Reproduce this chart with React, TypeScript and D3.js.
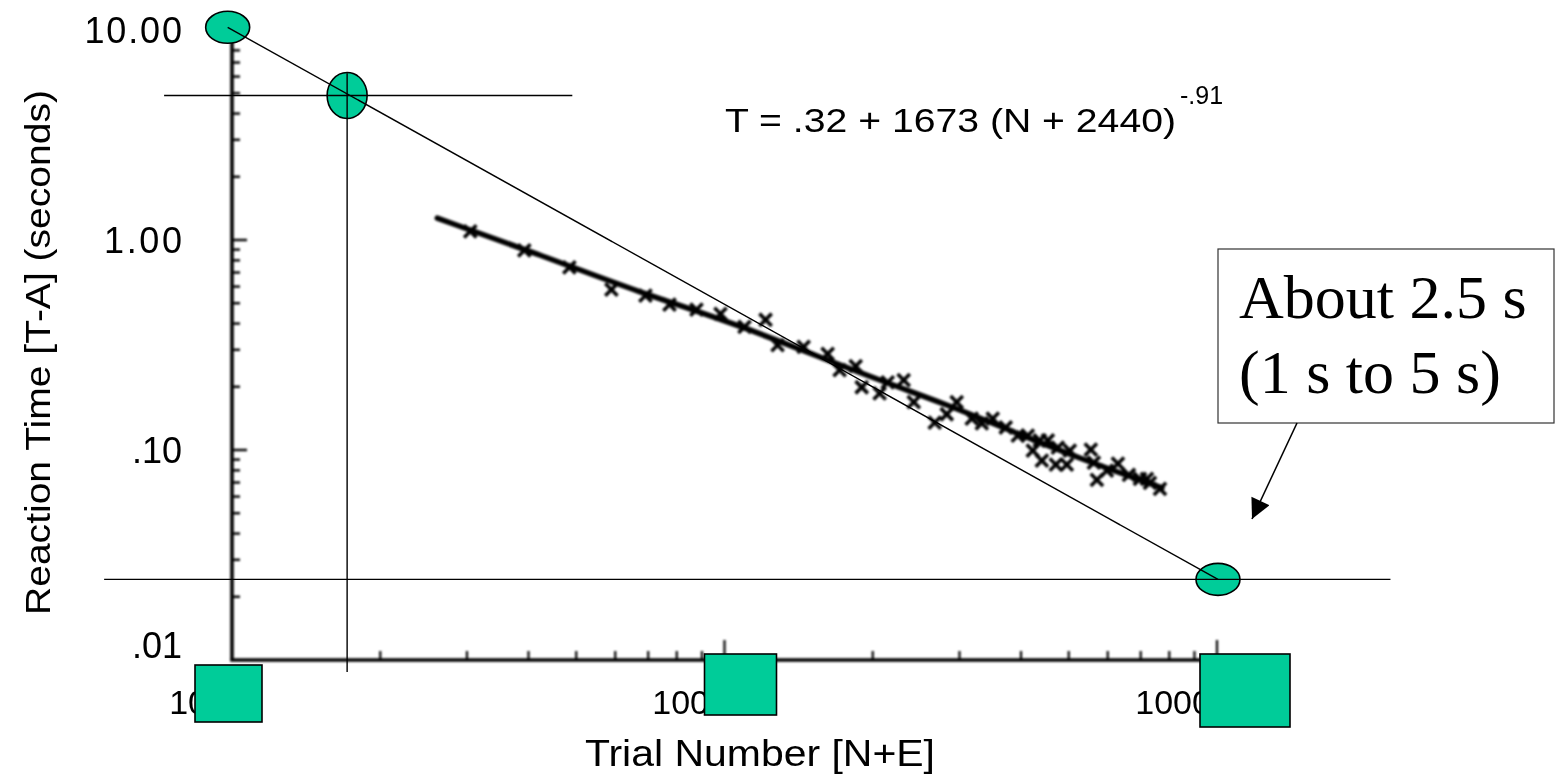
import React, { useEffect, useRef } from 'react';
import * as d3 from 'd3';

// Trial number (N+E) and reaction time (T-A)
const trialN = [3046, 3922, 4842, 5893, 6910, 7732, 8773, 9815, 10982, 12116, 12817, 14477, 16197, 17130, 18467, 18993, 20654, 21446, 23112, 24225, 26723, 28267, 29614, 31770, 33302, 35049, 37245, 39399, 41290, 42267, 43676, 44090, 45347, 47078, 47514, 49553, 50255, 55437, 56234, 57030, 59760, 62923, 66236, 69743, 72061, 73080, 76590];
const reactionT = [1.10, 0.893, 0.740, 0.580, 0.543, 0.492, 0.466, 0.445, 0.386, 0.417, 0.316, 0.310, 0.287, 0.240, 0.251, 0.199, 0.186, 0.210, 0.215, 0.169, 0.135, 0.148, 0.169, 0.141, 0.134, 0.141, 0.128, 0.117, 0.117, 0.0993, 0.111, 0.0890, 0.111, 0.0851, 0.1027, 0.0851, 0.0993, 0.1005, 0.0871, 0.0721, 0.0797, 0.0861, 0.0762, 0.0729, 0.0729, 0.0698, 0.0653];

// fitted power-law curve
const fitN = [2611, 4207, 6718, 10728, 18815, 28665, 37960, 52668, 77320];
const fitT = [1.27, 0.854, 0.562, 0.395, 0.232, 0.163, 0.124, 0.091, 0.066];

const xTicks = [1000, 10000, 100000];
const xTickLabels = ['1000', '10000', '100000'];
const yTicks = [10, 1, 0.1, 0.01];
const yTickLabels = ['10.00', '1.00', '.10', '.01'];

// hand-drawn annotation overlay (data coords)
const markerN = [980, 1713, 100460];
const markerT = [10.3, 4.88, 0.0242];
const guideH = [
  { y: 4.88, x0: 728, x1: 4909 },
  { y: 0.0242, x0: 550, x1: 225000 },
];
const guideV = [{ x: 1713, y0: 6.22, y1: 0.00877 }];

const GREEN = '#00CC99';
const W = 1561;
const H = 775;

export default function App() {
  const svgRef = useRef<SVGSVGElement>(null);

  useEffect(() => {
    if (!svgRef.current) return;
    const svg = d3.select(svgRef.current);
    svg.selectAll('*').remove();

    const x = d3.scaleLog().domain([1000, 100000]).range([232, 1217]);
    const y = d3.scaleLog().domain([0.01, 10]).range([660, 30]);

    svg.append('rect').attr('width', W).attr('height', H).attr('fill', 'white');

    const defs = svg.append('defs');
    defs.append('filter').attr('id', 'scan')
      .append('feGaussianBlur').attr('stdDeviation', 0.8);
    defs.append('filter').attr('id', 'scanText')
      .append('feGaussianBlur').attr('stdDeviation', 0.45);
    const marker = defs.append('marker')
      .attr('id', 'arrow')
      .attr('viewBox', '0 0 10 10')
      .attr('refX', 10).attr('refY', 5)
      .attr('markerWidth', 26).attr('markerHeight', 20)
      .attr('markerUnits', 'userSpaceOnUse')
      .attr('orient', 'auto');
    marker.append('path').attr('d', 'M0,0 L10,5 L0,10 Z').attr('fill', 'black');

    // scanned chart layer
    const scan = svg.append('g').attr('filter', 'url(#scan)');
    const scanText = svg.append('g').attr('filter', 'url(#scanText)');
    const font = '"Liberation Sans", Arial, Helvetica, sans-serif';

    // axes
    scan.append('line')
      .attr('x1', x(1000)).attr('x2', x(1000))
      .attr('y1', y(10)).attr('y2', y(0.01))
      .attr('stroke', 'black').attr('stroke-width', 3.6);
    scan.append('line')
      .attr('x1', x(1000) - 1.8).attr('x2', x(100000))
      .attr('y1', y(0.01)).attr('y2', y(0.01))
      .attr('stroke', 'black').attr('stroke-width', 3.6);

    // y ticks (inside, pointing right)
    y.ticks().forEach(t => {
      const major = yTicks.includes(+t.toPrecision(6));
      if (t === 0.01) return;
      scan.append('line')
        .attr('x1', x(1000)).attr('x2', x(1000) + (major ? 15 : 8))
        .attr('y1', y(t)).attr('y2', y(t))
        .attr('stroke', 'black').attr('stroke-width', 2.4);
    });
    // x ticks (inside, pointing up)
    x.ticks().forEach(t => {
      if (t === 1000) return;
      const major = xTicks.includes(t);
      scan.append('line')
        .attr('x1', x(t)).attr('x2', x(t))
        .attr('y1', y(0.01)).attr('y2', y(0.01) - (major ? 20 : 9))
        .attr('stroke', 'black').attr('stroke-width', 2.2);
    });

    // tick labels
    yTicks.forEach((t, i) => {
      scanText.append('text')
        .attr('x', 182)
        .attr('y', y(t) + (t === 0.01 ? -2 : 13))
        .attr('text-anchor', 'end')
        .attr('font-family', font)
        .attr('font-size', 36)
        .attr('textLength', yTickLabels[i].length > 3 ? yTickLabels[i].length * 19.5 : undefined)
        .attr('fill', 'black')
        .text(yTickLabels[i]);
    });
    xTicks.forEach((t, i) => {
      scanText.append('text')
        .attr('x', x(t) - 25)
        .attr('y', 714)
        .attr('text-anchor', 'middle')
        .attr('font-family', font)
        .attr('font-size', 34)
        .attr('fill', 'black')
        .text(xTickLabels[i]);
    });

    // axis titles
    scanText.append('text')
      .attr('x', 585).attr('y', 766)
      .attr('font-family', font).attr('font-size', 36)
      .attr('textLength', 350).attr('lengthAdjust', 'spacingAndGlyphs')
      .attr('fill', 'black')
      .text('Trial Number [N+E]');
    scanText.append('text')
      .attr('transform', 'translate(50,615) rotate(-90)')
      .attr('font-family', font).attr('font-size', 35)
      .attr('textLength', 525).attr('lengthAdjust', 'spacingAndGlyphs')
      .attr('fill', 'black')
      .text('Reaction Time [T-A] (seconds)');

    // formula
    scanText.append('text')
      .attr('x', 725).attr('y', 132)
      .attr('font-family', font).attr('font-size', 33)
      .attr('textLength', 451).attr('lengthAdjust', 'spacingAndGlyphs')
      .attr('fill', 'black')
      .text('T = .32 + 1673 (N + 2440)');
    scanText.append('text')
      .attr('x', 1180).attr('y', 104)
      .attr('font-family', font).attr('font-size', 25)
      .attr('fill', 'black')
      .text('-.91');

    // fitted curve
    const fitLine = d3.line<number>()
      .x((_, i) => x(fitN[i]))
      .y(d => y(d))
      .curve(d3.curveBasis);
    scan.append('path')
      .attr('d', fitLine(fitT))
      .attr('fill', 'none')
      .attr('stroke', 'black')
      .attr('stroke-width', 5.5)
      .attr('stroke-linecap', 'round');

    // data points
    const sym = d3.symbol().type(d3.symbolTimes).size(100);
    scan.append('g').selectAll('path')
      .data(reactionT)
      .join('path')
      .attr('transform', (d, i) => `translate(${x(trialN[i])},${y(d)})`)
      .attr('d', sym())
      .attr('fill', 'none')
      .attr('stroke', 'black')
      .attr('stroke-width', 3.6);

    // annotation overlay
    const ann = svg.append('g');
    const ellR = [[22, 16], [20, 23], [22, 16]];
    markerN.forEach((n, i) => {
      ann.append('ellipse')
        .attr('cx', x(n)).attr('cy', y(markerT[i]))
        .attr('rx', ellR[i][0]).attr('ry', ellR[i][1])
        .attr('fill', GREEN)
        .attr('stroke', 'black').attr('stroke-width', 1.6);
    });
    guideH.forEach(g => {
      ann.append('line')
        .attr('x1', x(g.x0)).attr('x2', x(g.x1))
        .attr('y1', y(g.y)).attr('y2', y(g.y))
        .attr('stroke', 'black').attr('stroke-width', 1.4);
    });
    guideV.forEach(g => {
      ann.append('line')
        .attr('x1', x(g.x)).attr('x2', x(g.x))
        .attr('y1', y(g.y0)).attr('y2', y(g.y1))
        .attr('stroke', 'black').attr('stroke-width', 1.4);
    });
    ann.append('line')
      .attr('x1', x(markerN[0])).attr('y1', y(markerT[0]))
      .attr('x2', x(markerN[2])).attr('y2', y(markerT[2]))
      .attr('stroke', 'black').attr('stroke-width', 1.4);

    // green squares hiding the tick labels
    const squares = [
      { t: 1000, dx: -37, top: 665, w: 67, h: 57 },
      { t: 10000, dx: -20, top: 654, w: 72, h: 61 },
      { t: 100000, dx: -17, top: 654, w: 90, h: 73 },
    ];
    squares.forEach(s => {
      ann.append('rect')
        .attr('x', x(s.t) + s.dx).attr('y', s.top)
        .attr('width', s.w).attr('height', s.h)
        .attr('fill', GREEN)
        .attr('stroke', 'black').attr('stroke-width', 1.6);
    });

    // callout box
    ann.append('rect')
      .attr('x', 1218).attr('y', 249)
      .attr('width', 336).attr('height', 174)
      .attr('fill', 'white')
      .attr('stroke', '#333').attr('stroke-width', 1.2);
    const serif = '"Liberation Serif", "Times New Roman", serif';
    ann.append('text')
      .attr('x', 1239).attr('y', 318)
      .attr('font-family', serif).attr('font-size', 62)
      .text('About 2.5 s');
    ann.append('text')
      .attr('x', 1239).attr('y', 393)
      .attr('font-family', serif).attr('font-size', 62)
      .text('(1 s to 5 s)');
    ann.append('line')
      .attr('x1', 1297).attr('y1', 423)
      .attr('x2', 1252).attr('y2', 519)
      .attr('stroke', 'black').attr('stroke-width', 1.6)
      .attr('marker-end', 'url(#arrow)');
  }, []);

  return (
    <svg
      ref={svgRef}
      width={W}
      height={H}
      style={{ position: 'absolute', left: 0, top: 0, display: 'block' }}
    />
  );
}
